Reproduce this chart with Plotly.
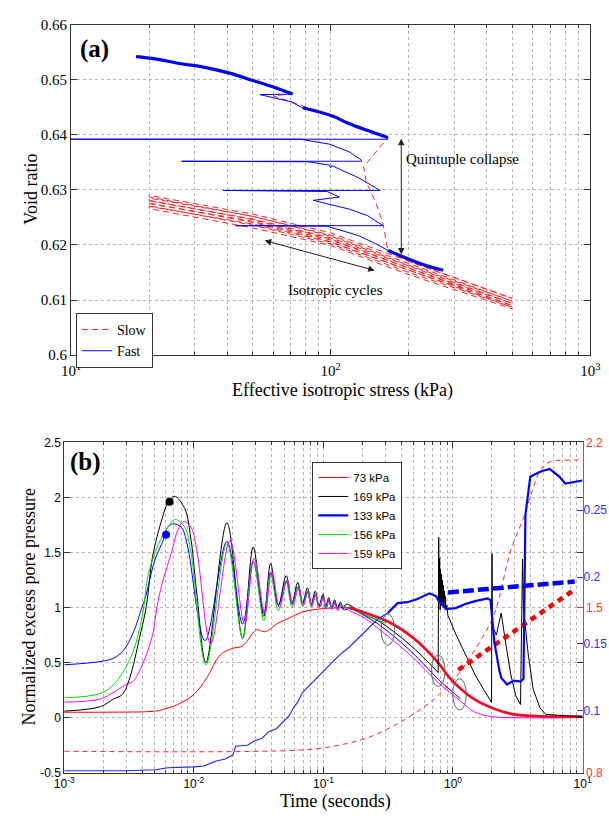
import math
import plotly.graph_objects as go

W, H = 609, 819
SERIF = "Liberation Serif"
SANS = "Liberation Sans"
AX = "#333333"
GRID = "#b5b5b5"


def fx(X):
    """pixel x -> paper fraction"""
    return X / W


def fy(Y):
    """pixel y (from top) -> paper fraction"""
    return 1 - Y / H


# ---------------- panel (a): void ratio vs effective isotropic stress ----------------
# fast test: compression branch (thick), small unload zig, second compression branch
fast_load1_p = [17.8, 21.1, 26.6, 32.4, 40.8, 49.9, 60.9, 71.3]
fast_load1_e = [0.6542, 0.6538, 0.6529, 0.6523, 0.6512, 0.6499, 0.6486, 0.6474]
fast_zig_p = [71.3, 53.4, 70.3, 78.0]
fast_zig_e = [0.6474, 0.6473, 0.6460, 0.6449]
fast_load2_p = [78.0, 101.6, 118.0, 166.0]
fast_load2_e = [0.6449, 0.6434, 0.6420, 0.6395]
# four collapse / reconsolidation stages
fast_collapse_p = [166.0, 166.0, 9.5, 76.5, 99.0, 118.0, 131.5,
                   131.5, 26.6, 82.0, 99.0, 100.0, 101.0, 128.0, 155.0,
                   38.5, 97.0, 108.0, 85.7, 118.0, 139.0, 159.0,
                   43.0, 96.9, 128.0, 148.0, 166.0]
fast_collapse_e = [0.6395, 0.6392, 0.6392, 0.6392, 0.6383, 0.6369, 0.6354,
                   0.6352, 0.6352, 0.6351, 0.6345, 0.6340, 0.6344, 0.6322, 0.6299,
                   0.6299, 0.6297, 0.6287, 0.6281, 0.6265, 0.6253, 0.6235,
                   0.6235, 0.6234, 0.6217, 0.6203, 0.6190]
fast_end_p = [166.0, 228.0, 271.0]
fast_end_e = [0.6190, 0.6164, 0.6154]

# slow test: compression, gradual collapse, then first loading to 500 kPa
slow_path_p = [17.8, 32.4, 49.9, 71.3, 60.0, 70.3, 101.6, 166.0,
               134.0, 137.0, 150.0, 159.0, 166.0, 200.0, 500.0]
slow_path_e = [0.6542, 0.6523, 0.6499, 0.6474, 0.6471, 0.6460, 0.6434, 0.6395,
               0.6342, 0.6315, 0.6274, 0.6239, 0.6190, 0.6170, 0.6103]
# isotropic cycles between 20 and 500 kPa (void ratio at each pressure)
cycle_p = [20, 50, 100, 200, 500]
unload_e = [
    [0.6290, 0.6256, 0.6222, 0.6171, 0.6103],
    [0.6285, 0.6252, 0.6218, 0.6167, 0.6098],
    [0.6280, 0.6247, 0.6213, 0.6162, 0.6094],
    [0.6275, 0.6243, 0.6209, 0.6158, 0.6090],
    [0.6270, 0.6238, 0.6205, 0.6154, 0.6087],
]
reload_e = [
    [0.6287, 0.6252, 0.6216, 0.6163, 0.6098],
    [0.6281, 0.6246, 0.6211, 0.6158, 0.6094],
    [0.6276, 0.6241, 0.6206, 0.6154, 0.6090],
    [0.6271, 0.6236, 0.6202, 0.6150, 0.6087],
    [0.6266, 0.6231, 0.6199, 0.6146, 0.6084],
]

# ---------------- panel (b): normalized excess pore pressure vs time ----------------
red73_t = [0.001, 0.00213, 0.00504, 0.00599, 0.0075, 0.0100, 0.01256, 0.0160, 0.0200,
           0.02375, 0.0282, 0.0308, 0.0353, 0.0449, 0.0534, 0.0691, 0.0992, 0.1578]
red73_v = [0.05, 0.05, 0.06, 0.08, 0.12, 0.21, 0.36, 0.57, 0.63,
           0.65, 0.76, 0.80, 0.78, 0.86, 0.90, 0.96, 0.99, 1.00]
red73_late_t = [0.1578, 0.211, 0.331, 0.500, 0.743, 0.962, 1.405, 2.087, 2.945, 5.865, 10.0]
red73_late_v = [1.00, 0.95, 0.86, 0.72, 0.52, 0.35, 0.18, 0.08, 0.03, 0.01, 0.01]

black169_t = [0.001, 0.0019, 0.0024, 0.0028, 0.0032, 0.0038, 0.0043, 0.0048, 0.0057, 0.0063,
              0.0071, 0.0085, 0.0095, 0.0106, 0.0124, 0.0180, 0.0238, 0.0287, 0.0347, 0.0391,
              0.0449, 0.0516, 0.0572, 0.0634, 0.0691, 0.0753, 0.0806, 0.0864, 0.0926, 0.0992,
              0.1044, 0.1099, 0.1158, 0.1219, 0.1284, 0.1351, 0.1423, 0.1498, 0.211, 0.2645,
              0.467, 0.769]
black169_v = [0.06, 0.10, 0.17, 0.21, 0.36, 0.72, 1.01, 1.46, 1.81, 1.95,
              2.01, 1.90, 1.62, 1.10, 0.50, 1.77, 0.72, 1.55, 0.92, 1.40,
              1.02, 1.29, 1.04, 1.23, 1.04, 1.18, 1.03, 1.15, 1.02, 1.12,
              1.01, 1.09, 1.00, 1.07, 1.00, 1.05, 0.99, 1.03, 0.93, 0.88,
              0.66, 0.41]
black169_late_t = [0.769, 0.776, 0.782, 0.789, 0.796, 0.802, 0.809, 0.816, 0.823, 0.830,
                   0.838, 0.845, 0.852, 0.860, 0.867, 0.875, 0.882, 0.895, 0.913, 1.05,
                   1.183, 1.480, 1.757, 1.983, 2.000, 2.017, 2.161, 2.355, 2.566, 2.797,
                   3.049, 3.322, 3.440, 3.499, 3.814, 4.156, 4.688, 5.198, 6.966, 10.0]
black169_late_v = [0.41, 1.64, 1.05, 1.45, 0.98, 1.35, 1.02, 1.30, 1.05, 1.25,
                   1.02, 1.20, 1.04, 1.15, 1.00, 1.10, 0.98, 1.02, 0.93, 0.76,
                   0.63, 0.39, 0.24, 0.14, 1.49, 0.83, 0.75, 0.95, 0.66, 0.39,
                   0.20, 0.12, 1.44, 0.99, 0.57, 0.26, 0.09, 0.03, 0.02, 0.01]

blue133_t = [0.001, 0.0019, 0.0024, 0.00286, 0.0034, 0.0040, 0.00425, 0.0050, 0.0058, 0.0063,
             0.0069, 0.0080, 0.0089, 0.0122, 0.0180, 0.0238, 0.0287, 0.0347, 0.0391, 0.0449,
             0.0516, 0.0572, 0.0634, 0.0691, 0.0753, 0.0806, 0.0864, 0.0926, 0.0992, 0.1044,
             0.1099, 0.1158, 0.1219, 0.1284, 0.1351, 0.1423, 0.16, 0.211, 0.2645, 0.467,
             0.769, 1.143]
blue133_v = [0.48, 0.51, 0.54, 0.61, 0.77, 1.01, 1.10, 1.43, 1.61, 1.73,
             1.76, 1.73, 1.57, 0.70, 1.60, 0.85, 1.42, 0.95, 1.32, 1.02,
             1.24, 1.03, 1.19, 1.03, 1.15, 1.02, 1.12, 1.01, 1.10, 1.00,
             1.07, 0.99, 1.05, 0.99, 1.03, 0.98, 0.99, 0.92, 0.85, 0.61,
             0.35, 0.17]

green156_t = [0.001, 0.0019, 0.0024, 0.00286, 0.0034, 0.0040, 0.00447, 0.00531, 0.0063, 0.0072,
              0.0085, 0.0095, 0.0124, 0.0180, 0.0238, 0.0287, 0.0347, 0.0391, 0.0449, 0.0516,
              0.0572, 0.0634, 0.0691, 0.0753, 0.0806, 0.0864, 0.0926, 0.0992, 0.1044, 0.1099,
              0.1158, 0.1219, 0.1284, 0.1351, 0.16, 0.211, 0.30]
green156_v = [0.18, 0.22, 0.30, 0.42, 0.60, 0.92, 1.31, 1.57, 1.73, 1.80,
              1.73, 1.50, 0.48, 1.58, 0.72, 1.42, 0.88, 1.31, 0.97, 1.23,
              1.00, 1.18, 1.01, 1.14, 1.01, 1.11, 1.00, 1.09, 0.99, 1.06,
              0.99, 1.04, 0.98, 1.02, 0.99, 0.93, 0.86]

mag159_t = [0.001, 0.0019, 0.0024, 0.0030, 0.0034, 0.0040, 0.0048, 0.0052, 0.0057, 0.0068,
            0.0075, 0.0083, 0.0095, 0.0106, 0.0135, 0.0190, 0.0246, 0.0292, 0.0353, 0.0400,
            0.0458, 0.0525, 0.0582, 0.0645, 0.0700, 0.0763, 0.0816, 0.0875, 0.0935, 0.1000,
            0.1052, 0.1107, 0.1166, 0.1227, 0.1292, 0.1359, 0.16, 0.211, 0.2645, 0.467,
            0.769, 1.143, 1.48, 1.98, 3.0, 10.0]
mag159_v = [0.14, 0.17, 0.23, 0.30, 0.33, 0.48, 0.75, 1.01, 1.22, 1.52,
            1.70, 1.78, 1.73, 1.50, 0.67, 1.61, 0.85, 1.45, 0.95, 1.33,
            1.00, 1.25, 1.02, 1.19, 1.02, 1.15, 1.01, 1.12, 1.00, 1.09,
            0.99, 1.06, 0.98, 1.04, 0.97, 1.01, 0.97, 0.90, 0.81, 0.57,
            0.32, 0.15, 0.05, 0.01, 0.0, 0.0]

# first-peak markers
peak_black_t, peak_black_v = [0.0065], [1.96]
peak_blue_t, peak_blue_v = [0.0061], [1.66]

# right-hand (red) scale
red_dash_t = [0.001, 0.0667, 0.1178, 0.211, 0.373, 0.594, 0.782, 1.049, 1.312, 1.669,
              2.087, 2.797, 3.499, 4.156, 4.688, 5.570, 8.71, 10.0]
red_dash_v = [0.891, 0.896, 0.912, 0.945, 1.008, 1.078, 1.132, 1.203, 1.278, 1.369,
              1.473, 1.743, 1.880, 2.005, 2.079, 2.117, 2.125, 2.129]
red_trend_t = [1.10, 8.7]
red_trend_v = [1.236, 1.577]

# right-hand (blue) scale
blue_sig_t = [0.001, 0.00301, 0.00504, 0.00631, 0.01004, 0.01193, 0.01492, 0.01742, 0.0200, 0.02106,
              0.02589, 0.02972, 0.03351, 0.03781, 0.04340, 0.04981, 0.05430, 0.05916, 0.06339, 0.06909,
              0.07932, 0.09415, 0.1118, 0.1328, 0.1578, 0.1874, 0.2227, 0.2645, 0.3143, 0.3733,
              0.4434, 0.5267, 0.6588, 0.7430, 0.7691, 0.8829, 1.049, 1.245, 1.480, 1.851,
              1.949, 2.017, 2.087, 2.275, 2.355, 2.612, 2.945, 3.322, 3.499, 3.622,
              3.948, 4.531, 4.937, 5.570, 6.071, 6.616, 7.335, 8.275, 10.0]
blue_sig_v = [0.0554, 0.0554, 0.0561, 0.0576, 0.0583, 0.0590, 0.0627, 0.0641, 0.0671, 0.0737,
              0.0744, 0.0780, 0.0795, 0.0846, 0.0868, 0.0927, 0.0963, 0.1029, 0.1066, 0.1139,
              0.1198, 0.1271, 0.1344, 0.1417, 0.1476, 0.1549, 0.1622, 0.1688, 0.1732, 0.1805,
              0.1812, 0.1834, 0.1878, 0.1856, 0.1827, 0.1761, 0.1768, 0.1798, 0.1820, 0.1841,
              0.1827, 0.1637, 0.1512, 0.1307, 0.1249, 0.1198, 0.1227, 0.1220, 0.1241, 0.2463,
              0.2749, 0.2778, 0.2793, 0.2807, 0.2778, 0.2749, 0.2698, 0.2705, 0.2720]
blue_trend_t = [0.914, 8.7]
blue_trend_v = [0.1885, 0.1966]

# ---------------- figure ----------------
fig = go.Figure()

# slow test path: compression + collapse + cycles
sp, se = list(slow_path_p), list(slow_path_e)
for ue, le in zip(unload_e, reload_e):
    sp += cycle_p[::-1]
    se += ue[::-1]
    sp += cycle_p
    se += le
fig.add_trace(go.Scatter(x=sp, y=se, mode="lines", name="Slow",
                         line=dict(color="#ff2020", width=1, dash="6px,4px"),
                         xaxis="x", yaxis="y", legend="legend"))

fig.add_trace(go.Scatter(x=fast_collapse_p, y=fast_collapse_e, mode="lines", name="Fast",
                         line=dict(color="#0000ff", width=1), xaxis="x", yaxis="y", legend="legend"))
fig.add_trace(go.Scatter(x=fast_zig_p, y=fast_zig_e, mode="lines", showlegend=False,
                         line=dict(color="#0000ff", width=1), xaxis="x", yaxis="y"))
for px_, ex_ in [(fast_load1_p, fast_load1_e), (fast_load2_p, fast_load2_e), (fast_end_p, fast_end_e)]:
    fig.add_trace(go.Scatter(x=px_, y=ex_, mode="lines", showlegend=False,
                             line=dict(color="#0000ff", width=3.2, shape="spline"),
                             xaxis="x", yaxis="y"))

# panel (b), left scale
fig.add_trace(go.Scatter(x=red73_t, y=red73_v, mode="lines", name="73 kPa", legendrank=1,
                         line=dict(color="#ff0000", width=1, shape="spline"),
                         xaxis="x2", yaxis="y2", legend="legend2"))
fig.add_trace(go.Scatter(x=black169_t, y=black169_v, mode="lines", name="169 kPa", legendrank=2,
                         line=dict(color="#000000", width=1, shape="spline"),
                         xaxis="x2", yaxis="y2", legend="legend2"))
fig.add_trace(go.Scatter(x=blue133_t, y=blue133_v, mode="lines", showlegend=False,
                         line=dict(color="#0000ff", width=1, shape="spline"),
                         xaxis="x2", yaxis="y2"))
fig.add_trace(go.Scatter(x=green156_t, y=green156_v, mode="lines", name="156 kPa", legendrank=4,
                         line=dict(color="#00dd00", width=1, shape="spline"),
                         xaxis="x2", yaxis="y2", legend="legend2"))
fig.add_trace(go.Scatter(x=mag159_t, y=mag159_v, mode="lines", name="159 kPa", legendrank=5,
                         line=dict(color="#ff00ff", width=1, shape="spline"),
                         xaxis="x2", yaxis="y2", legend="legend2"))
fig.add_trace(go.Scatter(x=red73_late_t, y=red73_late_v, mode="lines", showlegend=False,
                         line=dict(color="#ff0020", width=2.6, shape="spline"),
                         xaxis="x2", yaxis="y2"))
fig.add_trace(go.Scatter(x=black169_late_t, y=black169_late_v, mode="lines", showlegend=False,
                         line=dict(color="#000000", width=1), xaxis="x2", yaxis="y2"))
fig.add_trace(go.Scatter(x=peak_black_t, y=peak_black_v, mode="markers", showlegend=False,
                         marker=dict(color="black", size=8), xaxis="x2", yaxis="y2"))
fig.add_trace(go.Scatter(x=peak_blue_t, y=peak_blue_v, mode="markers", showlegend=False,
                         marker=dict(color="#0000ff", size=8), xaxis="x2", yaxis="y2"))

# panel (b), red right scale
fig.add_trace(go.Scatter(x=red_dash_t, y=red_dash_v, mode="lines", showlegend=False,
                         line=dict(color="#ff2020", width=1, dash="5px,4px", shape="spline"),
                         xaxis="x2", yaxis="y3"))
fig.add_trace(go.Scatter(x=red_trend_t, y=red_trend_v, mode="lines", showlegend=False,
                         line=dict(color="#ff0000", width=4.5, dash="6px,5px"),
                         xaxis="x2", yaxis="y3"))

# panel (b), blue right scale
k = blue_sig_t.index(0.3143)
fig.add_trace(go.Scatter(x=blue_sig_t[:k + 1], y=blue_sig_v[:k + 1], mode="lines", showlegend=False,
                         line=dict(color="#2020ff", width=1.1), xaxis="x2", yaxis="y4"))
fig.add_trace(go.Scatter(x=blue_sig_t[k:], y=blue_sig_v[k:], mode="lines", name="133 kPa", legendrank=3,
                         line=dict(color="#0000ff", width=2.2), xaxis="x2", yaxis="y4", legend="legend2"))
fig.add_trace(go.Scatter(x=blue_trend_t, y=blue_trend_v, mode="lines", showlegend=False,
                         line=dict(color="#0000ff", width=4.5, dash="11px,4px"),
                         xaxis="x2", yaxis="y4"))


def sup(e):
    return f"10<sup>{e}</sup>"


a_minor = [m * d for d in (10, 100) for m in range(2, 10)]
b_minor = [m * d for d in (0.001, 0.01, 0.1, 1) for m in range(2, 10)]

common_grid = dict(showgrid=True, gridcolor=GRID, griddash="dot", gridwidth=1, zeroline=False,
                   showline=True, linecolor=AX, linewidth=1, mirror="ticks",
                   ticks="inside", tickcolor=AX, ticklen=6)

fig.update_layout(
    width=W, height=H, margin=dict(l=0, r=0, t=0, b=0), autosize=False,
    paper_bgcolor="white", plot_bgcolor="white",
    xaxis=dict(type="log", range=[1, 3], domain=[fx(63), fx(599)], anchor="y",
               tickvals=[10, 100, 1000], ticktext=[sup(1), sup(2), sup(3)],
               tickfont=dict(family=SERIF, size=15, color="black"), ticklabelstandoff=2,
               minor=dict(tickvals=a_minor, ticks="inside", ticklen=3, tickcolor=AX,
                          showgrid=True, gridcolor=GRID, griddash="dot"),
               **common_grid),
    yaxis=dict(range=[0.6, 0.66], domain=[fy(354), fy(17)], anchor="x",
               tickvals=[0.6, 0.61, 0.62, 0.63, 0.64, 0.65, 0.66],
               ticktext=["0.6", "0.61", "0.62", "0.63", "0.64", "0.65", "0.66"],
               tickfont=dict(family=SERIF, size=15, color="black"),
               **common_grid),
    xaxis2=dict(type="log", range=[-3, 1], domain=[fx(56), fx(591)], anchor="y2",
                tickvals=[0.001, 0.01, 0.1, 1, 10],
                ticktext=[sup(-3), sup(-2), sup(-1), sup(0), sup(1)],
                tickfont=dict(family=SANS, size=12, color="black"), ticklabelstandoff=0,
                minor=dict(tickvals=b_minor, ticks="inside", ticklen=3, tickcolor=AX,
                           showgrid=True, gridcolor=GRID, griddash="dot"),
                **common_grid),
    yaxis2=dict(range=[-0.5, 2.5], domain=[fy(780), fy(443)], anchor="x2",
                tickvals=[-0.5, 0, 0.5, 1, 1.5, 2, 2.5],
                ticktext=["-0.5", "0", "0.5", "1", "1.5", "2", "2.5"],
                tickfont=dict(family=SANS, size=12, color="black"),
                **common_grid),
    yaxis3=dict(range=[0.8, 2.2], overlaying="y2", anchor="x2", side="right",
                tickvals=[0.8, 1.5, 2.2], ticktext=["0.8", "1.5", "2.2"],
                tickfont=dict(family=SANS, size=12, color="#ff3030"),
                showgrid=False, zeroline=False, showline=True, linecolor="#ff3030", linewidth=1,
                ticks="inside", tickcolor="#ff3030", ticklen=6),
    yaxis4=dict(range=[0.0539, 0.3005], overlaying="y2", anchor="x2", side="right",
                tickvals=[0.1, 0.15, 0.2, 0.25],
                tickfont=dict(family=SANS, size=12, color="#3030ff"),
                showgrid=False, zeroline=False, showline=False,
                ticks="inside", tickcolor="#3030ff", ticklen=6),
    legend=dict(x=fx(68), y=fy(311), xanchor="left", yanchor="top",
                bgcolor="white", bordercolor=AX, borderwidth=1,
                font=dict(family=SERIF, size=14, color="black"), tracegroupgap=0),
    legend2=dict(x=fx(312), y=fy(463), xanchor="left", yanchor="top",
                 bgcolor="white", bordercolor=AX, borderwidth=1,
                 font=dict(family=SANS, size=11.5, color="black"), tracegroupgap=0),
    showlegend=True,
)

# circled end points of the consolidation curves
for (t0, t1, v0, v1) in [(0.2786, 0.3545, 0.657, 0.942),
                         (0.682, 0.868, 0.283, 0.568),
                         (0.9956, 1.267, 0.070, 0.355)]:
    fig.add_shape(type="circle", xref="x2", yref="y2", x0=t0, x1=t1, y0=v0, y1=v1,
                  line=dict(color="#666666", width=1))

ann = []
# double-headed arrows in panel (a)
ann.append(dict(xref="x", yref="y", axref="x", ayref="y",
                x=math.log10(187), y=0.6393, ax=math.log10(187), ay=0.6180,
                text="", showarrow=True, arrowhead=2, arrowside="end+start",
                arrowsize=1.3, arrowwidth=1, arrowcolor="#222222"))
ann.append(dict(xref="x", yref="y", axref="x", ayref="y",
                x=math.log10(55.7), y=0.6208, ax=math.log10(149.7), ay=0.6153,
                text="", showarrow=True, arrowhead=2, arrowside="end+start",
                arrowsize=1.3, arrowwidth=1, arrowcolor="#222222"))


def label(text, cx, cy, size, family=SERIF, angle=0, bold=False):
    if bold:
        text = f"<b>{text}</b>"
    return dict(xref="paper", yref="paper", x=fx(cx), y=fy(cy), text=text,
                showarrow=False, textangle=angle, xanchor="center", yanchor="middle",
                font=dict(family=family, size=size, color="black"))


ann += [
    label("Quintuple collapse", 467, 154, 15),
    label("Isotropic cycles", 336, 288, 15),
    label("(a)", 87, 42, 25, bold=True),
    label("(b)", 78, 463, 25, bold=True),
    label("Void ratio", 22, 185, 18, angle=-90),
    label("Effective isotropic stress (kPa)", 343, 390, 18),
    label("Normalized excess pore pressure", 20, 611, 18, angle=-90),
    label("Time (seconds)", 336, 809, 18),
]
fig.update_layout(annotations=ann)

fig.write_html("out.html")
